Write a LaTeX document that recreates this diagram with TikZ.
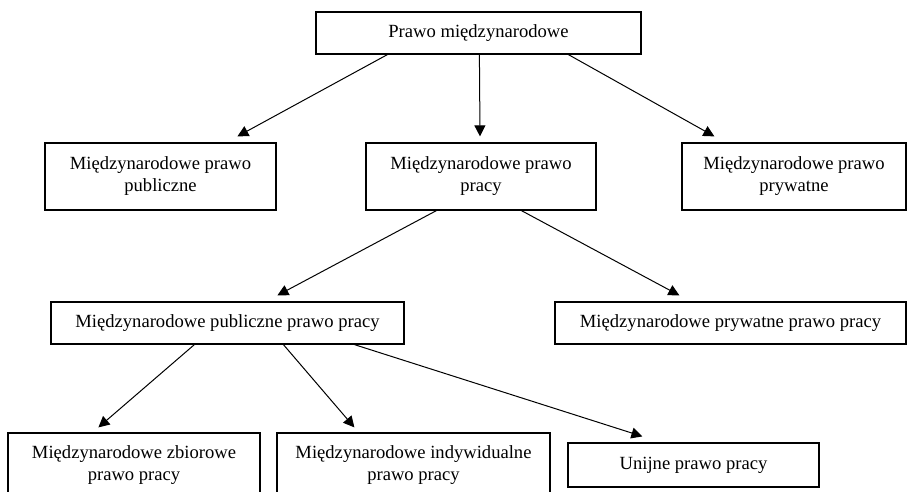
\documentclass[tikz,border=0pt]{standalone}
\usepackage{fontspec}
\setmainfont{Liberation Serif}
\usetikzlibrary{arrows.meta}
\tikzset{
  box/.style={draw=black, line width=1.2pt, fill=white, inner sep=0pt, align=center,
    font=\fontsize{18.6}{22}\selectfont},
  conn/.style={draw=black, line width=1pt, -{Triangle[length=11pt,width=11pt]}}
}
\begin{document}
\begin{tikzpicture}[x=1pt,y=-1pt]
\clip (0,0) rectangle (907,492);
\fill[white] (0,0) rectangle (907,492);
% level 1
\node[box, minimum width=325pt, minimum height=42pt] (top) at (478.5,33) {Prawo międzynarodowe};
% level 2
\node[box, minimum width=231pt, minimum height=67pt] (pub) at (160.5,176.5) {Międzynarodowe prawo\\publiczne};
\node[box, minimum width=230pt, minimum height=67pt] (pracy) at (481,176.5) {Międzynarodowe prawo\\pracy};
\node[box, minimum width=224pt, minimum height=67pt] (pryw) at (794,176.5) {Międzynarodowe prawo\\prywatne};
% level 3
\node[box, minimum width=353pt, minimum height=42pt] (mpub) at (227.5,323) {Międzynarodowe publiczne prawo pracy};
\node[box, minimum width=351pt, minimum height=42pt] (mpryw) at (730.5,323) {Międzynarodowe prywatne prawo pracy};
% level 4
\node[box, minimum width=252pt, minimum height=64pt] (zb) at (134,465) {Międzynarodowe zbiorowe\\prawo pracy};
\node[box, minimum width=273pt, minimum height=64pt] (ind) at (413.5,465) {Międzynarodowe indywidualne\\prawo pracy};
\node[box, minimum width=251pt, minimum height=44pt] (uni) at (693.5,465) {Unijne prawo pracy};
% connectors
\draw[conn] ([xshift=72pt]top.south west) -- ([xshift=193pt,yshift=6pt]pub.north west);
\draw[conn] ([xshift=164pt]top.south west) -- ([xshift=-1pt,yshift=6pt]pracy.north);
\draw[conn] ([xshift=253pt]top.south west) -- ([xshift=33pt,yshift=6pt]pryw.north west);
\draw[conn] ([xshift=71pt]pracy.south west) -- ([xshift=227pt,yshift=6pt]mpub.north west);
\draw[conn] ([xshift=156pt]pracy.south west) -- ([xshift=125pt,yshift=6pt]mpryw.north west);
\draw[conn] ([xshift=144pt]mpub.south west) -- ([xshift=91pt,yshift=5pt]zb.north west);
\draw[conn] ([xshift=233pt]mpub.south west) -- ([xshift=78pt,yshift=5pt]ind.north west);
\draw[conn] ([xshift=304pt]mpub.south west) -- ([xshift=75pt,yshift=6pt]uni.north west);
\end{tikzpicture}
\end{document}
